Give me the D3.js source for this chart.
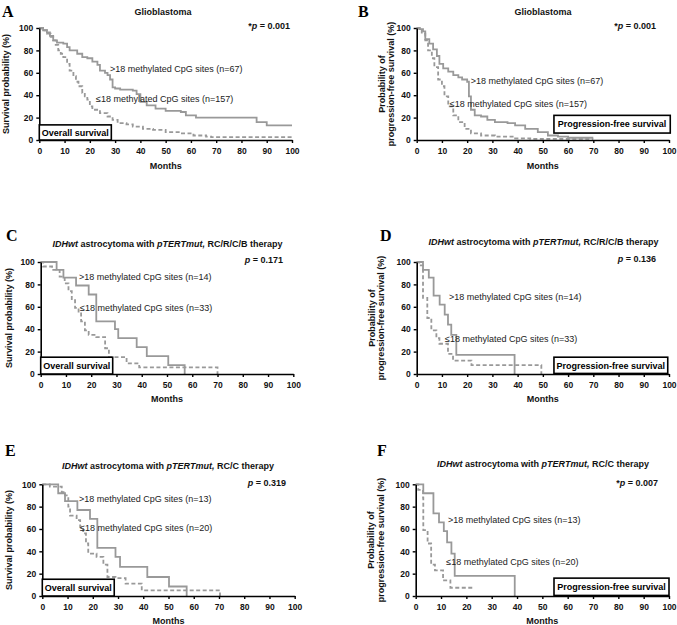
<!DOCTYPE html>
<html><head><meta charset="utf-8">
<script src="https://cdn.jsdelivr.net/npm/d3@7"></script>
<style>
html,body{margin:0;padding:0;background:#fff;}
svg{display:block;font-family:"Liberation Sans",Arial,sans-serif;}
</style></head>
<body><svg id="c" width="677" height="625"></svg>
<script>
// ---------- DATA (months, survival %) ----------
const xTicks = [0,10,20,30,40,50,60,70,80,90,100];
const yTicks = [0,20,40,60,80,100];

const gbmOS_hi = [[0,100],[1.5,98],[3,96],[4.2,93],[5.5,89],[7,87],[9.5,86],[11,83],[12,80],[15,77],[17,74],[19,73],[21,70],[23,67],[24,62],[26,60],[27,58],[28,54],[29,47],[30,46],[32,45],[37,44],[38.5,41],[40,34],[42.5,31],[46,28],[50,26],[56,25],[58,22],[62,20],[86,16],[90,13],[100,13]];
const gbmOS_lo = [[0,100],[1,98],[3,95],[4.5,92],[5.5,89],[6.5,85],[7.5,80],[8.5,77],[9.5,74],[11,68],[12,62],[13.5,57],[14.5,52],[15.5,48],[17,42],[18,39],[19,36],[20,30],[21,27],[24,24],[27,21],[29,18],[31,15],[34.5,14],[37,12],[41,10],[45,9],[50,7],[56,6],[61,4],[66,3],[68,2.5],[100,2.5]];
const gbmPFS_hi = [[0,100],[1,99],[2.5,97],[3.4,90],[5,86],[6.5,81],[8,75],[9,68],[10.5,64],[12.5,61],[14.5,58],[16.5,56],[18,54],[20,52],[20.7,39],[21.5,27],[23,22],[25.5,21],[28,18],[31,16],[36,15],[39,13],[43,10],[48,7],[52,4],[56,3],[60,2],[70,2]];
const gbmPFS_lo = [[0,100],[2,95],[3.4,89],[4.5,80],[6,73],[7,65],[8.5,54],[10,48],[11,39],[12.5,30],[14.5,22],[16.5,16],[19,10],[21.5,6],[25.5,4],[31,3],[39,1.5],[45,1],[70,1]];
const rcrcbOS_hi = [[0,100],[6.3,93],[9,86],[14,79],[19,71],[22,47],[29.4,40],[30.7,32],[38,24],[42,16],[50.5,8],[57,0]];
const rcrcbOS_lo = [[0,100],[1,96],[4.5,93],[7.5,87],[9.5,81],[11,74],[12.3,66],[13.6,59],[15,54],[16,47],[17.5,39],[19,35],[22,33],[25.5,23],[27,15],[34,9.5],[39,6],[70,0]];
const rcrcbPFS_hi = [[0,100],[2.5,93],[4.8,86],[6.7,70],[9.1,62],[11.1,53],[12.4,44],[13.7,35],[15.7,17],[38.8,0]];
const rcrcbPFS_lo = [[0,100],[1,97],[2.5,68],[4.2,50],[5.8,39],[7.8,32],[9,27],[12.4,18],[14.4,12],[21.7,8],[49.4,0]];
const rccOS_hi = [[0,100],[6.3,92],[9,85],[13.9,77],[18.9,69],[21.8,43],[29,35],[30.8,26],[41.6,17],[50.2,8.5],[57.2,0]];
const rccOS_lo = [[0,100],[3,98],[7.7,93],[9,90],[10.3,80],[11,72],[13.6,68],[15,62],[16.2,56],[17.3,47],[18.2,38],[21.5,35],[24.2,28],[25.8,17],[29,16],[33,11],[39.4,5],[70.4,0]];
const rccPFS_hi = [[0,100],[3,92],[7,74],[9.2,66],[11.1,58],[12.4,48],[14.1,38],[15.4,18],[39.1,0]];
const rccPFS_lo = [[0,100],[1,95],[2.9,88],[3,59],[4.7,47],[6.1,28],[7.6,23],[10.8,14],[13.7,7.4],[23,7.4]];

const panelLetters = ["A","B","C","D","E","F"];
const pValues = ["*|p| = 0.001","*|p| = 0.001","|p| = 0.171","|p| = 0.136","|p| = 0.319","*|p| = 0.007"];
const hiLabels = [">18 methylated CpG sites (n=67)",">18 methylated CpG sites (n=67)",">18 methylated CpG sites (n=14)",">18 methylated CpG sites (n=14)",">18 methylated CpG sites (n=13)",">18 methylated CpG sites (n=13)"];
const loLabels = ["\u226418 methylated CpG sites (n=157)","\u226418 methylated CpG sites (n=157)","\u226418 methylated CpG sites (n=33)","\u226418 methylated CpG sites (n=33)","\u226418 methylated CpG sites (n=20)","\u226418 methylated CpG sites (n=20)"];
const boxLabels = ["Overall survival","Progression-free survival","Overall survival","Progression-free survival","Overall survival","Progression-free survival"];
const titleGBM = [["Glioblastoma",false]];
const titleRCRCB = [["IDHwt",true],[" astrocytoma with ",false],["pTERTmut,",true],[" RC/R/C/B therapy",false]];
const titleRCC = [["IDHwt",true],[" astrocytoma with ",false],["pTERTmut,",true],[" RC/C therapy",false]];
const titles = [titleGBM,titleGBM,titleRCRCB,titleRCRCB,titleRCC,titleRCC];
const hiSeries = [gbmOS_hi,gbmPFS_hi,rcrcbOS_hi,rcrcbPFS_hi,rccOS_hi,rccPFS_hi];
const loSeries = [gbmOS_lo,gbmPFS_lo,rcrcbOS_lo,rcrcbPFS_lo,rccOS_lo,rccPFS_lo];
const osYLabel = ["Survival probability (%)"];
const pfsYLabel = ["Probability of","progression-free survival (%)"];

// ---------- LAYOUT ----------
const layout = [
 {l:39.3,r:292,t:28,b:140, letter:[2,17.3], title:[163,15], p:[290,29], hi:[110,72], lo:[96,102], box:[0,28.5,0,13.5], ylab:[6,84], mon:169},
 {l:416.7,r:669,t:28,b:140, letter:[358,17.3], title:[543,15], p:[656,29], hi:[470.7,84], lo:[449.7,107], box:[54.4,100.5,6.2,22], ylab:[386.5,84], mon:169},
 {l:40.7,r:293.3,t:262,b:374, letter:[6,240.7], title:[167.5,247], p:[283,263], hi:[79,279.7], lo:[80,310.7], box:[0,28.5,0,15], ylab:[8.5,318], mon:402.3},
 {l:416.7,r:669,t:262,b:374, letter:[380,240.7], title:[543.5,245], p:[656,262], hi:[449,300.3], lo:[445,342.3], box:[54.4,99.5,0.5,15], ylab:[376.3,318], mon:402.3},
 {l:42.3,r:294.7,t:484.3,b:596, letter:[5,456], title:[168,469], p:[286,486], hi:[79,502], lo:[80,531.3], box:[0,28.5,0,15], ylab:[9,540], mon:624},
 {l:415.7,r:669,t:484.3,b:596, letter:[377,456], title:[543,467], p:[658,486], hi:[448,523], lo:[446.3,564.7], box:[54.6,100,0.5,16], ylab:[376,540], mon:624}
];

const svg = d3.select("#c");
const curveColor = "#999999";

layout.forEach((L,i)=>{
  const x = d3.scaleLinear().domain([0,100]).range([L.l,L.r]);
  const y = d3.scaleLinear().domain([0,100]).range([L.b,L.t]);
  const g = svg.append("g");

  // panel letter
  g.append("text").attr("x",L.letter[0]).attr("y",L.letter[1])
    .attr("font-family","'Liberation Serif','Times New Roman',serif").attr("font-weight","bold")
    .attr("font-size",16).text(panelLetters[i]);

  // title
  const tt = g.append("text").attr("x",L.title[0]).attr("y",L.title[1]).attr("text-anchor","middle")
    .attr("font-size",9).attr("font-weight","bold").attr("fill","#111");
  titles[i].forEach(([s,it])=>{ tt.append("tspan").attr("font-style",it?"italic":"normal").text(s); });

  // p value
  const pt = g.append("text").attr("x",L.p[0]).attr("y",L.p[1]).attr("text-anchor","end")
    .attr("font-size",9).attr("font-weight","bold").attr("fill","#111");
  pValues[i].split("|").forEach((s,k)=>{ pt.append("tspan").attr("font-style",k===1?"italic":"normal").text(s); });

  // curves
  const line = d3.line().x(d=>x(d[0])).y(d=>y(d[1])).curve(d3.curveStepAfter);
  g.append("path").datum(loSeries[i]).attr("d",line).attr("fill","none")
    .attr("stroke",curveColor).attr("stroke-width",1.8).attr("stroke-dasharray","4,2.5");
  g.append("path").datum(hiSeries[i]).attr("d",line).attr("fill","none")
    .attr("stroke",curveColor).attr("stroke-width",1.8);

  // curve labels
  g.append("text").attr("x",L.hi[0]).attr("y",L.hi[1]).attr("font-size",9).attr("fill","#222").text(hiLabels[i]);
  g.append("text").attr("x",L.lo[0]).attr("y",L.lo[1]).attr("font-size",9).attr("fill","#222").text(loLabels[i]);

  // axes
  const ya = g.append("g").attr("transform",`translate(${L.l},0)`)
    .call(d3.axisLeft(y).tickValues(yTicks).tickSize(3).tickSizeOuter(0).tickPadding(3));
  const xa = g.append("g").attr("transform",`translate(0,${L.b})`)
    .call(d3.axisBottom(x).tickValues(xTicks).tickSize(3).tickSizeOuter(0).tickPadding(5));
  [ya,xa].forEach(a=>{
    a.select(".domain").attr("stroke","#000").attr("stroke-width",1.6);
    a.selectAll(".tick line").attr("stroke","#000").attr("stroke-width",1.4);
    a.selectAll(".tick text").attr("font-size",8.5).attr("font-weight","bold")
      .attr("font-family","'Liberation Sans',Arial,sans-serif").attr("fill","#111");
  });

  // survival type box
  const B = L.box;
  g.append("rect").attr("x",x(B[0])).attr("y",y(B[3])).attr("width",x(B[1])-x(B[0])).attr("height",y(B[2])-y(B[3]))
    .attr("fill","#fff").attr("stroke","#000").attr("stroke-width",1.6);
  g.append("text").attr("x",(x(B[0])+x(B[1]))/2).attr("y",(y(B[2])+y(B[3]))/2+3.2).attr("text-anchor","middle")
    .attr("font-size",9).attr("font-weight","bold").attr("fill","#000").text(boxLabels[i]);

  // y label
  const ylines = (i%2===0)?osYLabel:pfsYLabel;
  const yl = g.append("text").attr("transform",`translate(${L.ylab[0]},${L.ylab[1]}) rotate(-90)`)
    .attr("text-anchor","middle").attr("font-size",9).attr("font-weight","bold").attr("fill","#111");
  ylines.forEach((s,k)=>{
    yl.append("tspan").attr("x",0).attr("y",(k-(ylines.length-1)/2)*9.5+3.2).text(s);
  });

  // x label
  g.append("text").attr("x",(L.l+L.r)/2).attr("y",L.mon).attr("text-anchor","middle")
    .attr("font-size",9).attr("font-weight","bold").attr("fill","#111").text("Months");
});
</script>
</body></html>
